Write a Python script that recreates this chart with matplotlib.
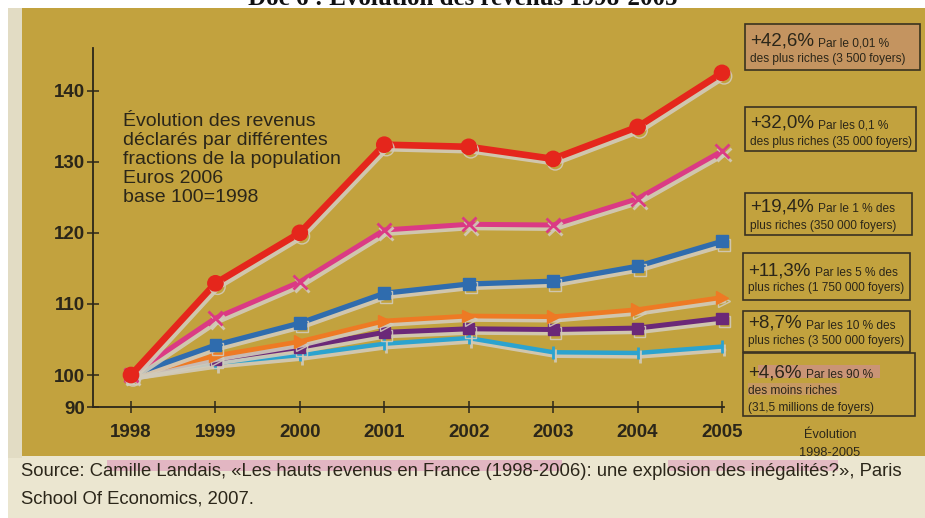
"""Évolution des revenus 1998-2005 (base 100 = 1998), recreated from a textbook scan."""

import matplotlib
matplotlib.use("Agg")
import matplotlib.pyplot as plt
import matplotlib.patheffects as pe
import numpy as np
from matplotlib import font_manager
from matplotlib.patches import Rectangle


# ── data ──────────────────────────────────────────────────────────────────

years = [1998, 1999, 2000, 2001, 2002, 2003, 2004, 2005]
top_001 = [100, 112.9, 120.0, 132.4, 132.1, 130.4, 134.9, 142.5]
top_01 = [100, 108.0, 113.1, 120.4, 121.2, 121.1, 124.8, 131.5]
top_1 = [100, 104.2, 107.3, 111.5, 112.8, 113.2, 115.3, 118.8]
top_5 = [100, 102.7, 104.7, 107.6, 108.3, 108.2, 109.2, 110.9]
top_10 = [100, 102.2, 103.9, 106.0, 106.5, 106.4, 106.6, 108.0]
bottom_90 = [100, 101.7, 102.8, 104.4, 105.2, 103.2, 103.1, 104.0]

y_ticks = [90, 100, 110, 120, 130, 140]

growth = ["+42,6%", "+32,0%", "+19,4%", "+11,3%", "+8,7%", "+4,6%"]
group_first = ["Par le 0,01 %", "Par les 0,1 %", "Par le 1 % des",
               "Par les 5 % des", "Par les 10 % des", "Par les 90 %"]
group_rest = [
    ["des plus riches (3 500 foyers)"],
    ["des plus riches (35 000 foyers)"],
    ["plus riches (350 000 foyers)"],
    ["plus riches (1 750 000 foyers)"],
    ["plus riches (3 500 000 foyers)"],
    ["des moins riches", "(31,5 millions de foyers)"],
]

TITLE = "Doc 6 : Évolution des revenus 1998-2005"
NOTE = ("Évolution des revenus\ndéclarés par différentes\n"
        "fractions de la population\nEuros 2006\nbase 100=1998")
SOURCE_1 = ("Source: Camille Landais, «Les hauts revenus en France (1998-2006): "
            "une explosion des inégalités?», Paris")
SOURCE_2 = "School Of Economics, 2007."


# ── style ─────────────────────────────────────────────────────────────────

W, H = 925, 518
GOLD = "#c2a23e"
CREAM = "#ebe6d0"
INK = "#2b2619"
SHADOW = "#d2cbbb"

installed = {f.name for f in font_manager.fontManager.ttflist}
SANS = "Liberation Sans"
NARROW = "Liberation Sans Narrow" if "Liberation Sans Narrow" in installed else SANS
SMALL = 10.2 if NARROW != SANS else 8.6

plt.rcParams["font.family"] = [SANS, "DejaVu Sans"]

# (ys, colour, line width, marker, marker size)
SERIES = [
    (bottom_90, "#2ba3cf", 3.2, "|", 9),
    (top_10, "#6b2878", 3.6, "s", 8),
    (top_5, "#ee7a24", 3.4, ">", 9),
    (top_1, "#2f6cae", 3.8, "s", 8.5),
    (top_01, "#db3a84", 3.6, "x", 10),
    (top_001, "#e5261c", 4.8, "o", 11),
]

# box frames in pixels: left, top, right, bottom, first baseline, line step
BOXES = [
    (745, 24, 920, 70, 45, 17),
    (745, 107, 916, 151, 128, 17),
    (745, 193, 912, 235, 211, 18),
    (743, 253, 910, 300, 275, 16),
    (743, 311, 910, 352, 328, 16),
    (743, 353, 915, 416, 377, 17),
]


def fwd(y):
    y = np.asarray(y, dtype=float)
    return np.where(y >= 100, y, 100 - (100 - y) * 0.45)


def inv(u):
    u = np.asarray(u, dtype=float)
    return np.where(u >= 100, u, 100 - (100 - u) / 0.45)


# ── figure ────────────────────────────────────────────────────────────────

fig = plt.figure(figsize=(W / 100, H / 100), dpi=100, facecolor="white")

bg = fig.add_axes([0, 0, 1, 1], zorder=0)
bg.set_xlim(0, W)
bg.set_ylim(H, 0)
bg.axis("off")

bg.add_patch(Rectangle((8, 8), W, H, color=CREAM, lw=0))
bg.add_patch(Rectangle((8, 8), 14, 450, color="#e2dcc4", lw=0))
bg.add_patch(Rectangle((22, 8), W, 448, color=GOLD, lw=0))

# title, cut by the top edge of the scan as in the original
fig.text(0.5, 1 - 5 / H, TITLE, ha="center", va="baseline", fontsize=18,
         fontweight="bold", family="Liberation Serif", color="#111111")

# ── chart ─────────────────────────────────────────────────────────────────

px_year = (722 - 131) / 7
x_left = 1998 - (131 - 93) / px_year
x_right = 2005 + (724 - 722) / px_year

ax = fig.add_axes([93 / W, 1 - 407 / H, (724 - 93) / W, (407 - 48) / H], zorder=2)
ax.set_facecolor("none")
ax.set_yscale("function", functions=(fwd, inv))
ax.set_xlim(x_left, x_right)
ax.set_ylim(90, 146)

for ys, color, lw, marker, ms in SERIES:
    ax.plot(years, ys, color=color, lw=lw, marker=marker, ms=ms,
            mew=2 if marker in "x|" else 1, mec=color, solid_joinstyle="round",
            solid_capstyle="round", clip_on=False,
            path_effects=[pe.SimpleLineShadow(offset=(1.5, -2.5), shadow_color=SHADOW,
                                              alpha=0.9), pe.Normal()])

for side in ["top", "right"]:
    ax.spines[side].set_visible(False)
for side in ["left", "bottom"]:
    ax.spines[side].set_color(INK)
    ax.spines[side].set_linewidth(1.3)

ax.set_yticks(y_ticks)
ax.set_yticklabels([str(v) for v in y_ticks])
ax.set_xticks(years)
ax.set_xticklabels([str(y) for y in years])
ax.yaxis.set_minor_locator(plt.NullLocator())
ax.tick_params(axis="y", direction="inout", length=8, width=1.1, color=INK,
               labelsize=13.5, labelcolor=INK, pad=2)
ax.tick_params(axis="x", direction="inout", length=9, width=1.1, color=INK,
               labelsize=13.5, labelcolor=INK, pad=8)
for lab in ax.get_yticklabels() + ax.get_xticklabels():
    lab.set_fontweight("bold")

# multi-line text: baseline refers to the last line
bg.text(123, 202, NOTE, ha="left", va="baseline", fontsize=14, color=INK,
        linespacing=1.15)

bg.text(830, 438, "Évolution", ha="center", va="baseline", fontsize=SMALL + 0.6,
        family=NARROW, color=INK)
bg.text(830, 456, "1998-2005", ha="center", va="baseline", fontsize=SMALL + 0.6,
        family=NARROW, color=INK)

# ── growth boxes ──────────────────────────────────────────────────────────

bg.add_patch(Rectangle((746, 25), 173, 44, color="#c6906c", alpha=0.75, lw=0))
bg.add_patch(Rectangle((758, 365), 122, 13, color="#d28aa6", alpha=0.55, lw=0))
bg.add_patch(Rectangle((748, 383), 92, 12, color="#d28aa6", alpha=0.35, lw=0))

for (l, t, r, b, base, step), big, first, rest in zip(BOXES, growth, group_first, group_rest):
    bg.add_patch(Rectangle((l, t), r - l, b - t, fill=False, ec="#3a3222", lw=1.2))
    t_big = bg.text(l + 5, base, big, ha="left", va="baseline", fontsize=13.5, color=INK)
    bg.annotate(first, xy=(1, 0), xycoords=t_big, xytext=(3, 0),
                textcoords="offset points", ha="left", va="bottom",
                fontsize=SMALL, family=NARROW, color=INK)
    for i, line in enumerate(rest):
        bg.text(l + 5, base + step * (i + 1), line, ha="left", va="baseline",
                fontsize=SMALL, family=NARROW, color=INK)

# ── source ────────────────────────────────────────────────────────────────

bg.add_patch(Rectangle((107, 460), 455, 11, color="#dc8fb8", alpha=0.55, lw=0))
bg.add_patch(Rectangle((668, 460), 170, 11, color="#dc8fb8", alpha=0.5, lw=0))
bg.text(21, 476, SOURCE_1, ha="left", va="baseline", fontsize=13.3, color=INK)
bg.text(21, 503, SOURCE_2, ha="left", va="baseline", fontsize=13.3, color=INK)

fig.savefig("out.png", dpi=100, facecolor=fig.get_facecolor())
